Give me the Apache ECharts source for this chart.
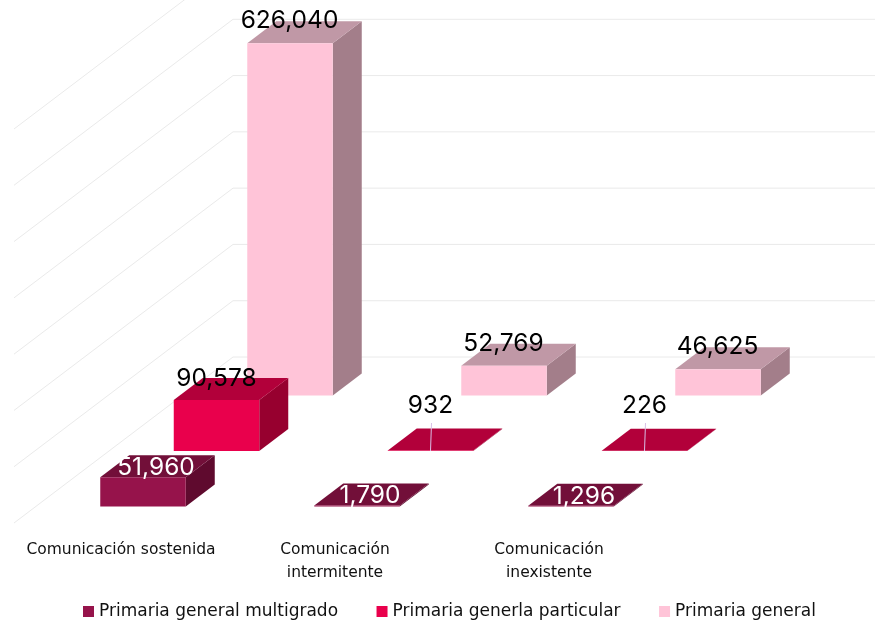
<!DOCTYPE html>
<html><head><meta charset="utf-8">
<style>html,body{margin:0;padding:0;background:#fff}#c{width:876px;height:623px}</style>
<script src="https://cdn.jsdelivr.net/npm/echarts@6/dist/echarts.min.js"></script>
</head><body><div id="c"></div>
<script>
const categories = ['Comunicación sostenida', 'Comunicación\nintermitente', 'Comunicación\ninexistente'];
const seriesNames = ['Primaria general multigrado', 'Primaria generla particular', 'Primaria general'];
const multigrado = [51960, 1790, 1296];
const particular = [90578, 932, 226];
const general = [626040, 52769, 46625];
const wallTicks = [0, 100000, 200000, 300000, 400000, 500000, 600000, 700000];

const FONT = 'Inter';
const SMALL_FONT = '"DejaVu Sans"';
const BAR_W = 85.5, DEPTH_X = 29, DEPTH_Y = 22;
const WALL_DX = 219, WALL_DY = 166;
const ROW_STEP_X = 73.5, ROW_STEP_Y = 55.5, ROW0_X = 22, ROW0_Y = 16.5;
const LEADER_BELOW = 1000;

const rowStyles = [
  {front:'#96134B', top:'#720F39', side:'#5F0A2E', text:'#ffffff', labelX:13, labelY:-9.5},
  {front:'#E9004C', top:'#B2003A', side:'#97002F', text:'#000000', labelX:0,  labelY:-21.5},
  {front:'#FFC4D8', top:'#C098A6', side:'#A37E8A', text:'#000000', labelX:-0.5,  labelY:-22.5}
];

function barItem(row) {
  return function (params, api) {
    const s = rowStyles[row];
    const cat = api.value(0), val = api.value(1);
    const base = api.coord([cat, 0]), tip = api.coord([cat, val]);
    const offX = ROW0_X + row * ROW_STEP_X, offY = -(ROW0_Y + row * ROW_STEP_Y);
    const x0 = base[0] - BAR_W / 2 + offX, x1 = x0 + BAR_W;
    const yB = base[1] + offY, yT = tip[1] + offY;
    const poly = (pts, fill) => ({type:'polygon', shape:{points:pts}, style:{fill:fill}});
    const children = [
      poly([[x1,yB],[x1+DEPTH_X,yB-DEPTH_Y],[x1+DEPTH_X,yT-DEPTH_Y],[x1,yT]], s.side),
      poly([[x0,yT],[x1,yT],[x1+DEPTH_X,yT-DEPTH_Y],[x0+DEPTH_X,yT-DEPTH_Y]], s.top),
      poly([[x0,yB],[x1,yB],[x1,yT],[x0,yT]], s.front)
    ];
    const small = val < LEADER_BELOW;
    const cx = (x0 + x1) / 2;
    if (small) {
      children.push({type:'line', shape:{x1:cx, y1:yB, x2:cx + 1, y2:yB - 28},
        style:{stroke:'#D9BFE6', lineWidth:1}});
    }
    children.push({type:'text', style:{
      text: val.toLocaleString('en-US'),
      x: cx + s.labelX, y: yT + (small ? -45 : s.labelY),
      align:'center', verticalAlign:'middle',
      fill:s.text, font:'400 24.5px ' + FONT
    }});
    return {type:'group', children:children};
  };
}

function wallItem(params, api) {
  const band = api.size([1, 0])[0];
  const p = api.coord([0, api.value(0)]);
  const x = p[0] - band / 2, y = p[1];
  const bx = x + WALL_DX, by = y - WALL_DY;
  return {type:'polyline', shape:{points:[[x,y],[bx,by],[bx + band * categories.length, by]]},
    style:{stroke:'#EAEAEA', lineWidth:1, fill:'none'}};
}

const toPairs = arr => arr.map((v, i) => [i, v]);
const colours = rowStyles.map(s => s.front);

const chart = echarts.init(document.getElementById('c'), null, {renderer:'canvas'});
chart.setOption({
  animation:false,
  backgroundColor:'#fff',
  grid:{left:14, width:642, top:129, height:394},
  xAxis:{type:'category', data:categories, axisLine:{show:false}, axisTick:{show:false},
    axisLabel:{color:'#111', fontFamily:SMALL_FONT, fontSize:15.5, lineHeight:23, margin:15, interval:0}},
  yAxis:{type:'value', min:0, max:700000, interval:100000, show:false},
  legend:{data:seriesNames, top:598, left:78, icon:'rect', itemWidth:11, itemHeight:11, itemGap:38.5,
    textStyle:{color:'#111', fontFamily:SMALL_FONT, fontSize:17}},
  series:[
    {type:'custom', name:'walls', silent:true, z:1, data:wallTicks.map(v => [v]), renderItem:wallItem,
     encode:{y:0}},
    {type:'custom', name:seriesNames[0], z:5, data:toPairs(multigrado), renderItem:barItem(0),
     itemStyle:{color:colours[0]}, encode:{x:0, y:1}},
    {type:'custom', name:seriesNames[1], z:4, data:toPairs(particular), renderItem:barItem(1),
     itemStyle:{color:colours[1]}, encode:{x:0, y:1}},
    {type:'custom', name:seriesNames[2], z:3, data:toPairs(general), renderItem:barItem(2),
     itemStyle:{color:colours[2]}, encode:{x:0, y:1}}
  ]
});
</script></body></html>
